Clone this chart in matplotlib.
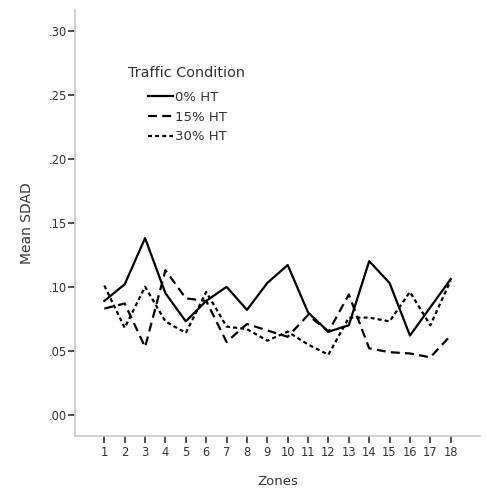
import matplotlib
matplotlib.use('Agg')
import matplotlib.pyplot as plt

zones = list(range(1, 19))
ht_0 = [0.089, 0.102, 0.138, 0.095, 0.073, 0.089, 0.100, 0.082, 0.103, 0.117,
        0.080, 0.065, 0.070, 0.120, 0.103, 0.062, 0.084, 0.106]
ht_15 = [0.083, 0.087, 0.053, 0.113, 0.091, 0.089, 0.057, 0.071, 0.066, 0.061,
         0.078, 0.065, 0.094, 0.052, 0.049, 0.048, 0.045, 0.062]
ht_30 = [0.101, 0.068, 0.100, 0.073, 0.064, 0.096, 0.069, 0.067, 0.058, 0.065,
         0.055, 0.047, 0.076, 0.076, 0.073, 0.096, 0.070, 0.105]
y_ticks = [0.00, 0.05, 0.10, 0.15, 0.20, 0.25, 0.30]
y_tick_labels = ['.00', '.05', '.10', '.15', '.20', '.25', '.30']

plt.rcParams['font.family'] = ['DejaVu Sans']
text_col = '#333333'

fig = plt.figure(figsize=(4.86, 4.95), dpi=100)
ax = fig.add_axes([0.1543, 0.1192, 0.8334, 0.8606])

ax.plot(zones, ht_0, color='black', linewidth=1.6, label='0% HT')
ax.plot(zones, ht_15, color='black', linewidth=1.6, dashes=(4, 2.4), label='15% HT')
ax.plot(zones, ht_30, color='black', linewidth=1.6, dashes=(1.8, 1.4), label='30% HT')

ax.set_xlim(-0.44, 19.44)
ax.set_ylim(-0.0164, 0.316)
ax.set_xticks(zones)
ax.set_xticklabels([str(z) for z in zones])
ax.set_yticks(y_ticks)
ax.set_yticklabels(y_tick_labels)

for side in ['top', 'right']:
    ax.spines[side].set_visible(False)
for side in ['left', 'bottom']:
    ax.spines[side].set_color('#c8c8c8')
    ax.spines[side].set_linewidth(1.2)

ax.tick_params(axis='both', colors=text_col, labelsize=8.3, length=5, width=1.2)
ax.tick_params(axis='x', pad=2)
ax.tick_params(axis='y', pad=1)

ax.set_xlabel('Zones', fontsize=9.5, color=text_col, labelpad=12)
ax.set_ylabel('Mean SDAD', fontsize=10, color=text_col, labelpad=10)

# legend title drawn separately so the entries can sit indented below it
ax.text(0.131, 0.852, 'Traffic Condition', transform=ax.transAxes,
        fontsize=10.4, color=text_col, va='center', ha='left')
leg = ax.legend(loc='upper left', bbox_to_anchor=(0.180, 0.810), frameon=False,
                fontsize=9.5, borderpad=0, borderaxespad=0,
                handlelength=1.9, handletextpad=0.15, labelspacing=0.5)
for t in leg.get_texts():
    t.set_color(text_col)

fig.savefig('out.png', dpi=100)
